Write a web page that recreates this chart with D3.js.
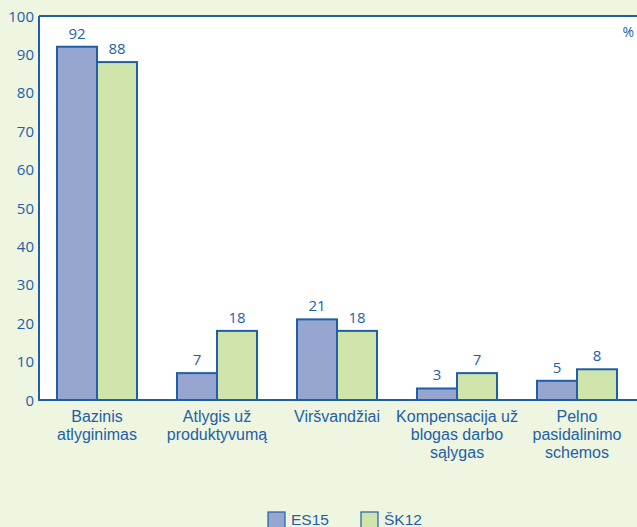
<!DOCTYPE html>
<html>
<head>
<meta charset="utf-8">
<script src="https://cdn.jsdelivr.net/npm/d3@7.9.0/dist/d3.min.js"></script>
<style>
  body { margin: 0; background: #eef5e0; }
  svg { display: block; }
  text { fill: #1f5fa8; }
</style>
</head>
<body>
<svg width="637" height="527"></svg>
<script>
const categories = [
  ['Bazinis', 'atlyginimas'],
  ['Atlygis už', 'produktyvumą'],
  ['Viršvandžiai'],
  ['Kompensacija už', 'blogas darbo', 'sąlygas'],
  ['Pelno', 'pasidalinimo', 'schemos']
];
const series = ['ES15', 'ŠK12'];
const es15 = [92, 7, 21, 3, 5];
const sk12 = [88, 18, 18, 7, 8];
const yTicks = [0, 10, 20, 30, 40, 50, 60, 70, 80, 90, 100];

const colors = { 'ES15': '#96a6d0', 'ŠK12': '#cfe4aa' };
const stroke = '#1f5fa8';

const svg = d3.select('svg');
const plotLeft = 39, plotTop = 16, plotBottom = 400, plotRight = 637;

const y = d3.scaleLinear().domain([0, 100]).range([plotBottom, plotTop]);
const x = d3.scaleBand().domain(d3.range(categories.length)).range([37, 637]);
const xs = d3.scaleBand().domain(series).range([x.bandwidth() / 2 - 40, x.bandwidth() / 2 + 40]);

// plot area
svg.append('rect')
  .attr('x', plotLeft).attr('y', plotTop)
  .attr('width', plotRight - plotLeft).attr('height', plotBottom - plotTop)
  .attr('fill', '#fff');

// y axis labels
svg.append('g').selectAll('text')
  .data(yTicks)
  .join('text')
  .attr('x', 34)
  .attr('y', (d) => y(d) + 5.5)
  .attr('text-anchor', 'end')
  .attr('font-family', 'Open Sans, sans-serif')
  .attr('font-size', 15)
  .text((d) => d);

// bars
const rows = categories.map((c, i) => ({ i, values: [['ES15', es15[i]], ['ŠK12', sk12[i]]] }));
const groups = svg.append('g').selectAll('g')
  .data(rows)
  .join('g')
  .attr('transform', (d) => `translate(${x(d.i)},0)`);

groups.selectAll('rect')
  .data((d) => d.values)
  .join('rect')
  .attr('x', (d) => xs(d[0]))
  .attr('y', (d) => y(d[1]))
  .attr('width', xs.bandwidth())
  .attr('height', (d) => y(0) - y(d[1]))
  .attr('fill', (d) => colors[d[0]])
  .attr('stroke', stroke)
  .attr('stroke-width', 2);

groups.selectAll('text.val')
  .data((d) => d.values)
  .join('text')
  .attr('class', 'val')
  .attr('x', (d) => xs(d[0]) + xs.bandwidth() / 2)
  .attr('y', (d) => y(d[1]) - 8)
  .attr('text-anchor', 'middle')
  .attr('font-family', 'Open Sans, sans-serif')
  .attr('font-size', 15)
  .text((d) => d[1]);

// axis lines
svg.append('path')
  .attr('d', `M${plotLeft},${plotTop}H${plotRight}M${plotLeft},${plotTop}V${plotBottom}H${plotRight}`)
  .attr('fill', 'none')
  .attr('stroke', stroke)
  .attr('stroke-width', 2);

svg.append('text')
  .attr('x', 634).attr('y', 37)
  .attr('text-anchor', 'end')
  .attr('font-family', 'Open Sans, sans-serif')
  .attr('font-size', 14)
  .text('%');

// category labels
const catText = svg.append('g').selectAll('text')
  .data(categories)
  .join('text')
  .attr('x', (d, i) => x(i) + x.bandwidth() / 2)
  .attr('y', 422)
  .attr('text-anchor', 'middle')
  .attr('font-family', 'Liberation Sans, Arial, sans-serif')
  .attr('font-size', 16);
catText.selectAll('tspan')
  .data((d) => d)
  .join('tspan')
  .attr('x', function () { return d3.select(this.parentNode).attr('x'); })
  .attr('dy', (d, j) => (j === 0 ? 0 : 18))
  .text((d) => d);

// legend
const legendX = [268, 361];
const legend = svg.append('g').selectAll('g')
  .data(series)
  .join('g')
  .attr('transform', (d, i) => `translate(${legendX[i]},512)`);
legend.append('rect')
  .attr('width', 17).attr('height', 16)
  .attr('fill', (d) => colors[d])
  .attr('stroke', stroke)
  .attr('stroke-width', 1.2);
legend.append('text')
  .attr('x', 23).attr('y', 13)
  .attr('font-family', 'Liberation Sans, Arial, sans-serif')
  .attr('font-size', 15.5)
  .text((d) => d);
</script>
</body>
</html>
